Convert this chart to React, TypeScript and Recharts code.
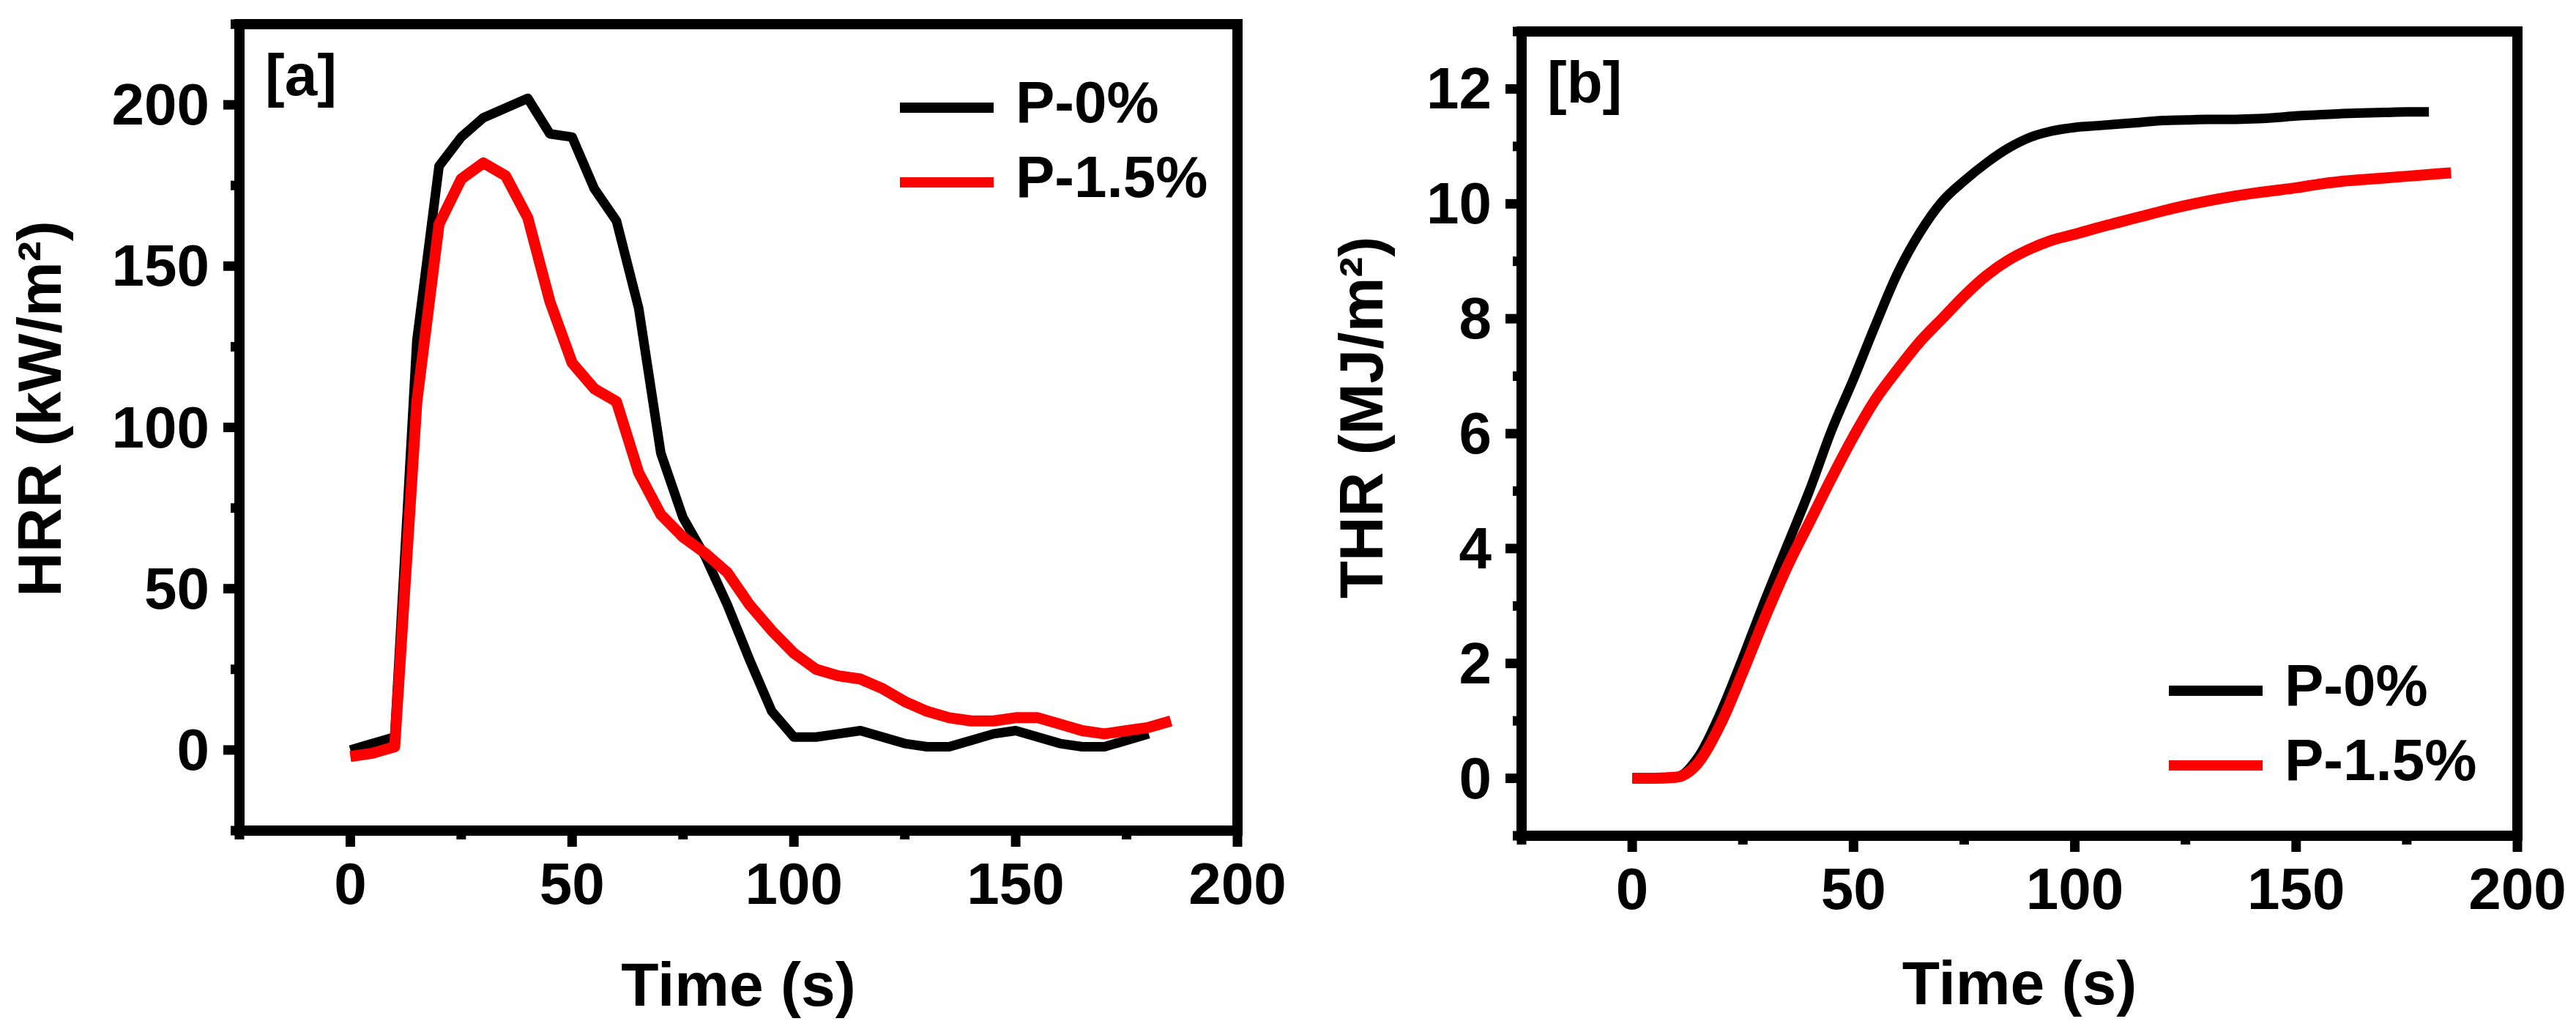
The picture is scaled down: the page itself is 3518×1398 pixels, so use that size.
import React from 'react';
import { LineChart, Line, XAxis, YAxis, ReferenceArea, Legend } from 'recharts';

const FONT = '"Liberation Sans", Arial, Helvetica, sans-serif';
const INK = '#000000';
const RED = '#ff0000';

// time axis (s)
const TIME_180 = [0, 5, 10, 15, 20, 25, 30, 35, 40, 45, 50, 55, 60, 65, 70, 75, 80, 85, 90, 95, 100,
  105, 110, 115, 120, 125, 130, 135, 140, 145, 150, 155, 160, 165, 170, 175, 180];
const TIME_185 = [0, 5, 10, 15, 20, 25, 30, 35, 40, 45, 50, 55, 60, 65, 70, 75, 80, 85, 90, 95, 100,
  105, 110, 115, 120, 125, 130, 135, 140, 145, 150, 155, 160, 165, 170, 175, 180, 185];

// [a] heat release rate, kW/m2
const HRR_P0 = [0, 2, 4, 127, 181, 190, 196, 199, 202, 191, 190, 174, 164, 137, 92, 72, 60, 45, 28, 12, 4,
  4, 5, 6, 4, 2, 1, 1, 3, 5, 6, 4, 2, 1, 1, 3, 5];
const HRR_P15 = [-2, -1, 1, 108, 163, 177, 182, 178, 165, 139, 120, 112, 108, 86, 73, 66, 61, 55, 45, 37, 30,
  25, 23, 22, 19, 15, 12, 10, 9, 9, 10, 10, 8, 6, 5, 6, 7, 9];

// [b] total heat release, MJ/m2
const THR_P0 = [0, 0, 0.02, 0.38, 1.15, 2.1, 3.1, 4.05, 5.0, 6.05, 6.95, 7.9, 8.8, 9.5, 10.04, 10.4, 10.71,
  10.97, 11.16, 11.27, 11.33, 11.36, 11.39, 11.42, 11.45, 11.46, 11.47, 11.47, 11.48, 11.5, 11.53, 11.55,
  11.57, 11.58, 11.59, 11.6, 11.6];
const THR_P15 = [0, 0, 0.02, 0.28, 0.95, 1.85, 2.8, 3.68, 4.45, 5.22, 5.95, 6.6, 7.12, 7.6, 8.0, 8.4, 8.75,
  9.02, 9.22, 9.37, 9.47, 9.58, 9.68, 9.78, 9.88, 9.97, 10.05, 10.12, 10.18, 10.23, 10.28, 10.34, 10.39,
  10.42, 10.45, 10.48, 10.51, 10.54];

const SERIES_NAMES = ['P-0%', 'P-1.5%'];

const X_TICKS = [-25, 0, 25, 50, 75, 100, 125, 150, 175, 200];
const X_LABELS = [0, 50, 100, 150, 200];
const HRR_TICKS = [-25, 0, 25, 50, 75, 100, 125, 150, 175, 200, 225];
const HRR_LABELS = [0, 50, 100, 150, 200];
const THR_TICKS = [-1, 0, 1, 2, 3, 4, 5, 6, 7, 8, 9, 10, 11, 12, 13];
const THR_LABELS = [0, 2, 4, 6, 8, 10, 12];

const zip = (t: number[], v: number[]) => t.map((time, i) => ({ time, value: v[i] }));

const txt = { fontFamily: FONT, fontWeight: 'bold' as const, fill: INK };

const bottomTick = (labels: number[]) => (props: any) => {
  const { x, y, payload } = props;
  const major = labels.includes(payload.value);
  return (
    <g>
      <line x1={x} x2={x} y1={y} y2={y + (major ? 22 : 12)} stroke={INK} strokeWidth={13} />
      {major && (
        <text x={x} y={y + 100} textAnchor="middle" fontSize={80} {...txt}>
          {payload.value}
        </text>
      )}
    </g>
  );
};

const leftTick = (labels: number[]) => (props: any) => {
  const { x, y, payload } = props;
  const major = labels.includes(payload.value);
  return (
    <g>
      <line x1={x} x2={x - (major ? 22 : 12)} y1={y} y2={y} stroke={INK} strokeWidth={13} />
      {major && (
        <text x={x - 41} y={y + 27} textAnchor="end" fontSize={80} {...txt}>
          {payload.value}
        </text>
      )}
    </g>
  );
};

const legendContent = (props: any) => {
  const items = props.payload || [];
  return (
    <svg width={460} height={230} style={{ display: 'block', overflow: 'visible' }}>
      {items.map((it: any, i: number) => (
        <g key={it.value}>
          <line x1={9} x2={137} y1={57 + i * 102} y2={57 + i * 102} stroke={it.color} strokeWidth={14} />
          <text x={167} y={77 + i * 102} fontSize={80} {...txt}>
            {it.value}
          </text>
        </g>
      ))}
    </svg>
  );
};

type PanelProps = {
  left: number;
  plot: { top: number; right: number; bottom: number; left: number };
  black: { time: number; value: number }[];
  red: { time: number; value: number }[];
  curve: 'linear' | 'monotone';
  yDomain: [number, number];
  yTicks: number[];
  yLabels: number[];
  yTitle: string;
  yTitleX: number;
  yTitleY: number;
  tag: string;
  tagX: number;
  tagY: number;
  titleBaseline: number;
  legendPos: { left: number; top: number };
};

const W = 1759;
const H = 1398;
const Y_AXIS_W = 300;
const X_AXIS_H = 240;

const Panel = (p: PanelProps) => {
  // plot = distances of the plot frame from the panel edges
  const margin = {
    top: p.plot.top,
    right: p.plot.right,
    bottom: p.plot.bottom - X_AXIS_H,
    left: p.plot.left - Y_AXIS_W,
  };
  const plotCenterX = p.plot.left + (W - p.plot.left - p.plot.right) / 2;
  return (
    <div style={{ position: 'absolute', left: p.left, top: 0, width: W, height: H }}>
      <LineChart width={W} height={H} margin={margin}>
        <XAxis
          type="number"
          dataKey="time"
          domain={[-25, 200]}
          allowDataOverflow
          ticks={X_TICKS}
          interval={0}
          height={X_AXIS_H}
          tickSize={0}
          tickMargin={0}
          axisLine={false}
          tickLine={false}
          tick={bottomTick(X_LABELS)}
          label={() => (
            <text x={plotCenterX} y={p.titleBaseline} textAnchor="middle" fontSize={84} {...txt}>
              Time (s)
            </text>
          )}
        />
        <YAxis
          type="number"
          domain={p.yDomain}
          allowDataOverflow
          ticks={p.yTicks}
          interval={0}
          width={Y_AXIS_W}
          tickSize={0}
          tickMargin={0}
          axisLine={false}
          tickLine={false}
          tick={leftTick(p.yLabels)}
          label={() => (
            <g>
              <text
                x={p.yTitleX}
                y={p.yTitleY}
                transform={`rotate(-90, ${p.yTitleX}, ${p.yTitleY})`}
                textAnchor="middle"
                fontSize={84}
                {...txt}
              >
                {p.yTitle}
              </text>
              <text x={p.tagX} y={p.tagY} fontSize={80} {...txt}>
                {p.tag}
              </text>
            </g>
          )}
        />
        <Line
          data={p.black}
          dataKey="value"
          name={SERIES_NAMES[0]}
          type={p.curve}
          stroke={INK}
          strokeWidth={13}
          strokeLinejoin="round"
          dot={false}
          activeDot={false}
          isAnimationActive={false}
        />
        <Line
          data={p.red}
          dataKey="value"
          name={SERIES_NAMES[1]}
          type={p.curve}
          stroke={RED}
          strokeWidth={15}
          strokeLinejoin="round"
          dot={false}
          activeDot={false}
          isAnimationActive={false}
        />
        <ReferenceArea
          x1={-25}
          x2={200}
          y1={p.yDomain[0]}
          y2={p.yDomain[1]}
          fill="none"
          fillOpacity={0}
          stroke={INK}
          strokeWidth={14}
          ifOverflow="visible"
        />
        <Legend
          layout="horizontal"
          verticalAlign="middle"
          align="center"
          content={legendContent}
          wrapperStyle={{ left: p.legendPos.left, top: p.legendPos.top, width: 460, height: 230, margin: 0 }}
        />
      </LineChart>
    </div>
  );
};

export default function App() {
  return (
    <div style={{ position: 'absolute', left: 0, top: 0, width: 3518, height: H, background: '#fff' }}>
      <Panel
        left={0}
        plot={{ top: 33, right: 69, bottom: 264, left: 327 }}
        black={zip(TIME_180, HRR_P0)}
        red={zip(TIME_185, HRR_P15)}
        curve="linear"
        yDomain={[-25, 225]}
        yTicks={HRR_TICKS}
        yLabels={HRR_LABELS}
        yTitle="HRR (kW/m²)"
        yTitleX={83}
        yTitleY={558}
        tag="[a]"
        tagX={362}
        tagY={130}
        titleBaseline={1373}
        legendPos={{ left: 1220, top: 90 }}
      />
      <Panel
        left={1759}
        plot={{ top: 43, right: 80, bottom: 257, left: 319 }}
        black={zip(TIME_180, THR_P0)}
        red={zip(TIME_185, THR_P15)}
        curve="monotone"
        yDomain={[-1, 13]}
        yTicks={THR_TICKS}
        yLabels={THR_LABELS}
        yTitle="THR (MJ/m²)"
        yTitleX={129}
        yTitleY={570}
        tag="[b]"
        tagX={354}
        tagY={140}
        titleBaseline={1371}
        legendPos={{ left: 1194, top: 886 }}
      />
    </div>
  );
}
